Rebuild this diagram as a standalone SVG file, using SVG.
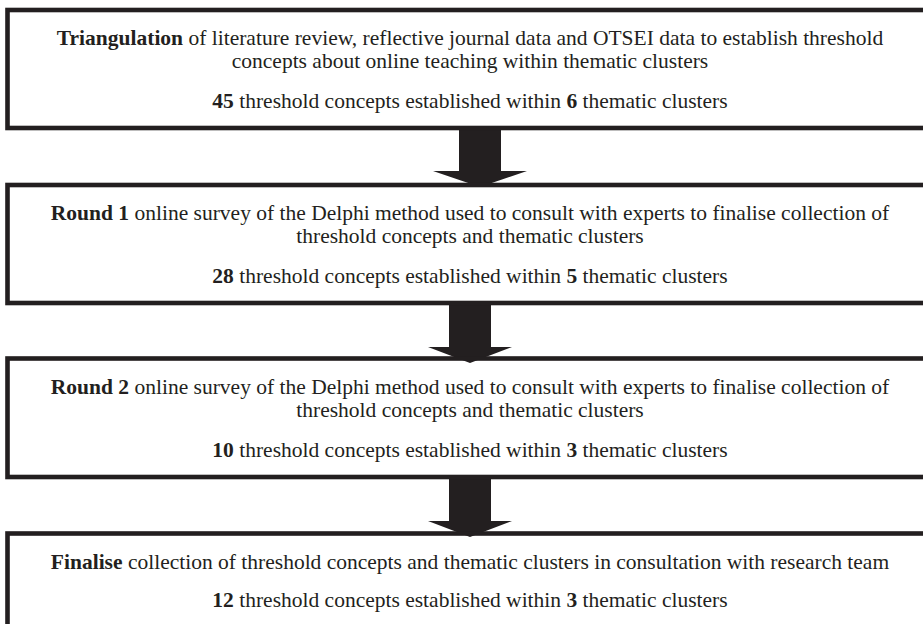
<svg xmlns="http://www.w3.org/2000/svg" width="923" height="624" viewBox="0 0 923 624">
<style>
.box{fill:#fff;stroke:#231f20;stroke-width:4.6}
.t{font-family:"Liberation Serif","Times New Roman",serif;font-size:21.5px;fill:#231f20;text-anchor:middle}
.b{font-weight:bold}
.arr{fill:#231f20;stroke:none}
</style>
<rect width="923" height="624" fill="#fff"/>
<g id="connectors">
<path class="arr" d="M459,126 H501 V171 H527 L480,187 L433,171 H459 Z"/>
<path class="arr" d="M449,301 H491 V347 H512 L470,363 L428,347 H449 Z"/>
<path class="arr" d="M449,475 H491 V521 H512 L470,537 L428,521 H449 Z"/>
</g>
<g id="node1">
<rect class="box" x="7.5" y="10" width="940" height="118" fill-opacity="0"/>
<text class="t" x="470" y="45"><tspan class="b">Triangulation</tspan> of literature review, reflective journal data and OTSEI data to establish threshold</text>
<text class="t" x="470" y="68">concepts about online teaching within thematic clusters</text>
<text class="t" x="470" y="108"><tspan class="b">45</tspan> threshold concepts established within <tspan class="b">6</tspan> thematic clusters</text>
</g>
<g id="node2">
<rect class="box" x="7.5" y="185" width="940" height="118" fill-opacity="0"/>
<text class="t" x="470" y="220"><tspan class="b">Round 1</tspan> online survey of the Delphi method used to consult with experts to finalise collection of</text>
<text class="t" x="470" y="243">threshold concepts and thematic clusters</text>
<text class="t" x="470" y="283"><tspan class="b">28</tspan> threshold concepts established within <tspan class="b">5</tspan> thematic clusters</text>
</g>
<g id="node3">
<rect class="box" x="7.5" y="358.5" width="940" height="118.5" fill-opacity="0"/>
<text class="t" x="470" y="394"><tspan class="b">Round 2</tspan> online survey of the Delphi method used to consult with experts to finalise collection of</text>
<text class="t" x="470" y="417">threshold concepts and thematic clusters</text>
<text class="t" x="470" y="457"><tspan class="b">10</tspan> threshold concepts established within <tspan class="b">3</tspan> thematic clusters</text>
</g>
<g id="node4">
<rect class="box" x="7.5" y="533.5" width="940" height="120" fill-opacity="0"/>
<text class="t" x="470" y="569"><tspan class="b">Finalise</tspan> collection of threshold concepts and thematic clusters in consultation with research team</text>
<text class="t" x="470" y="607"><tspan class="b">12</tspan> threshold concepts established within <tspan class="b">3</tspan> thematic clusters</text>
</g>
</svg>
